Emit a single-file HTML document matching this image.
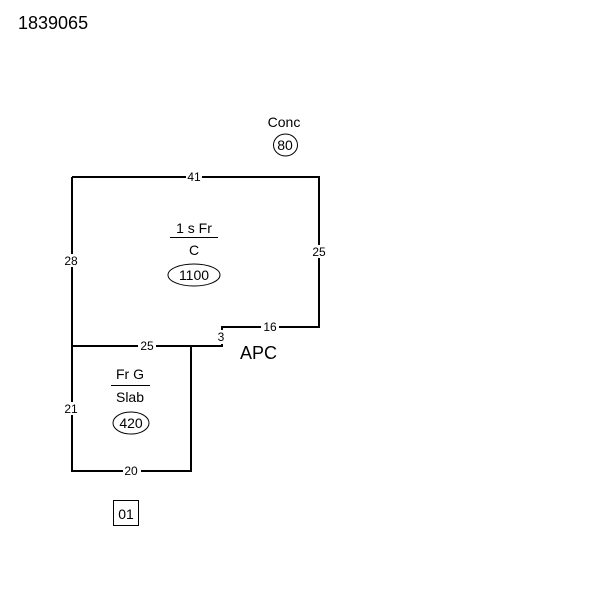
<!DOCTYPE html>
<html><head><style>body{margin:0;background:#fff}svg{display:block}text{font-family:"Liberation Sans",sans-serif;fill:#000}</style></head>
<body>
<svg width="600" height="600" viewBox="0 0 600 600">
<rect width="600" height="600" fill="#fff"/>
<text x="18" y="29" font-size="18">1839065</text>
<g stroke="#000" stroke-width="2" fill="none">
<path d="M72 177H319V327H222V330"/>
<path d="M72 177V471H191V346"/>
<path d="M72 346H222V343"/>
</g>
<g font-size="12" text-anchor="middle">
<rect x="186" y="171" width="16" height="12" fill="#fff"/><text x="194" y="181">41</text>
<rect x="310" y="245" width="18" height="13" fill="#fff"/><text x="319" y="256">25</text>
<rect x="63" y="254" width="18" height="13" fill="#fff"/><text x="71" y="265">28</text>
<rect x="261" y="321" width="18" height="12" fill="#fff"/><text x="270" y="331">16</text>
<rect x="215" y="331" width="12" height="13" fill="#fff"/><text x="221" y="341">3</text>
<rect x="138" y="340" width="18" height="12" fill="#fff"/><text x="147" y="350">25</text>
<rect x="63" y="402" width="18" height="13" fill="#fff"/><text x="71" y="413">21</text>
<rect x="123" y="465" width="18" height="12" fill="#fff"/><text x="131" y="475">20</text>
</g>
<text x="240" y="359" font-size="18">APC</text>
<g font-size="14" text-anchor="middle">
<text x="284" y="127">Conc</text>
<text x="285" y="150">80</text>
<text x="194" y="233">1 s Fr</text>
<text x="194" y="255">C</text>
<text x="194" y="280">1100</text>
<text x="130" y="379">Fr G</text>
<text x="130" y="402">Slab</text>
<text x="131" y="428">420</text>
<text x="126" y="519">01</text>
</g>
<g stroke="#000" stroke-width="1" fill="none">
<ellipse cx="285.5" cy="145" rx="12" ry="11"/>
<line x1="170" y1="237.5" x2="218" y2="237.5"/>
<ellipse cx="194" cy="275" rx="26" ry="11"/>
<line x1="111" y1="385.5" x2="150" y2="385.5"/>
<ellipse cx="131" cy="423" rx="18" ry="11"/>
<rect x="113.5" y="500.5" width="25" height="25"/>
</g>
</svg>
</body></html>
